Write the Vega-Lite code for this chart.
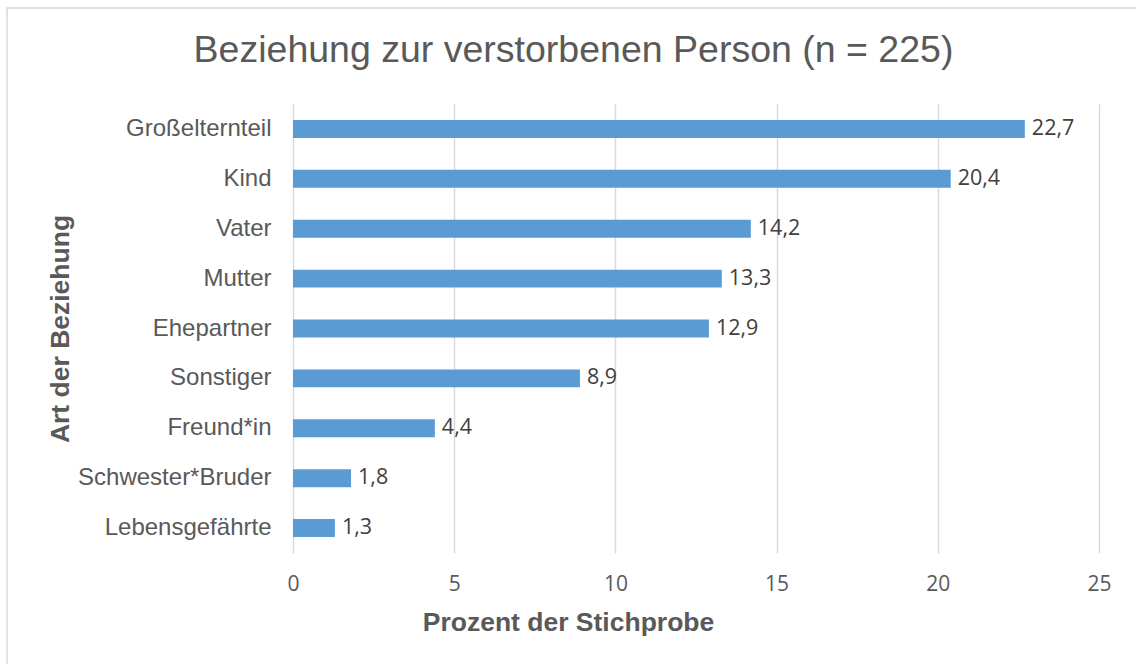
{
  "$schema": "https://vega.github.io/schema/vega-lite/v6.json",
  "autosize": "none",
  "width": 1131,
  "height": 658,
  "padding": {"left": 7, "top": 8, "right": -2, "bottom": -2},
  "background": "white",
  "title": {
    "text": "Beziehung zur verstorbenen Person (n = 225)",
    "anchor": "middle",
    "frame": "group",
    "font": "Liberation Sans",
    "fontSize": 37.5,
    "fontWeight": "normal",
    "color": "#595959",
    "baseline": "alphabetic",
    "offset": -91,
    "dx": 1
  },
  "data": {
    "values": [
      {"Beziehung": "Großelternteil", "Prozent": 22.7},
      {"Beziehung": "Kind", "Prozent": 20.4},
      {"Beziehung": "Vater", "Prozent": 14.2},
      {"Beziehung": "Mutter", "Prozent": 13.3},
      {"Beziehung": "Ehepartner", "Prozent": 12.9},
      {"Beziehung": "Sonstiger", "Prozent": 8.9},
      {"Beziehung": "Freund*in", "Prozent": 4.4},
      {"Beziehung": "Schwester*Bruder", "Prozent": 1.8},
      {"Beziehung": "Lebensgefährte", "Prozent": 1.3}
    ]
  },
  "encoding": {
    "y": {
      "field": "Beziehung",
      "type": "nominal",
      "sort": null,
      "scale": {"range": [96, 545], "paddingInner": 0.64, "paddingOuter": 0.32},
      "axis": {
        "title": "Art der Beziehung",
        "offset": -286,
        "domain": false,
        "ticks": false,
        "grid": false,
        "labelPadding": 22,
        "labelFont": "Liberation Sans",
        "labelFontSize": 24,
        "labelColor": "#595959",
        "labelLimit": 400,
        "titleFont": "Liberation Sans",
        "titleFontSize": 26.5,
        "titleFontWeight": "bold",
        "titleColor": "#595959",
        "titlePadding": 19
      }
    },
    "x": {
      "field": "Prozent",
      "type": "quantitative",
      "scale": {"domain": [0, 25], "range": [286, 1092], "nice": false},
      "axis": {
        "orient": "top",
        "title": "Prozent der Stichprobe",
        "offset": -545,
        "values": [0, 5, 10, 15, 20, 25],
        "domain": false,
        "ticks": false,
        "grid": true,
        "gridColor": "#d9d9d9",
        "gridWidth": 1.5,
        "labelFlush": false,
        "labelPadding": -20,
        "labelBaseline": "top",
        "labelFont": "Open Sans",
        "labelFontSize": 21,
        "labelColor": "#595959",
        "titleFont": "Liberation Sans",
        "titleFontSize": 26.5,
        "titleFontWeight": "bold",
        "titleColor": "#595959",
        "titleX": 561,
        "titleY": 77,
        "titleBaseline": "alphabetic",
        "titleAnchor": "middle"
      }
    }
  },
  "layer": [
    {"mark": {"type": "bar", "color": "#5B9BD5"}},
    {
      "mark": {
        "type": "text",
        "align": "left",
        "baseline": "middle",
        "dx": 7,
        "font": "Open Sans",
        "fontSize": 21.5,
        "color": "#404040"
      },
      "encoding": {"text": {"field": "Prozent", "type": "quantitative", "format": ".1f"}}
    }
  ],
  "config": {
    "locale": {"number": {"decimal": ",", "thousands": ".", "grouping": [3], "currency": ["", " €"]}},
    "view": {"stroke": "#d9d9d9", "strokeWidth": 1.5}
  }
}
